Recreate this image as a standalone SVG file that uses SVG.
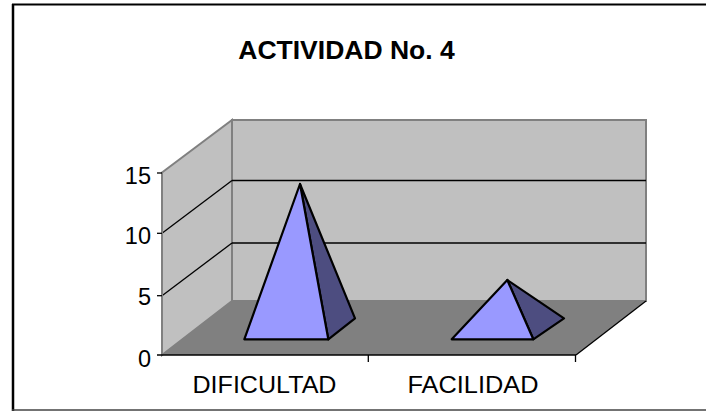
<svg xmlns="http://www.w3.org/2000/svg" width="706" height="411" viewBox="0 0 706 411">
<style>
text{font-family:"Liberation Sans",Arial,sans-serif;fill:#000}
.lbl{font-size:23.5px}
.wall{fill:#C0C0C0;stroke:#808080;stroke-width:2}
.grid{stroke:#000;stroke-width:1.3;fill:none}
.lite{fill:#9999FF;stroke:#000;stroke-width:2.2;stroke-linejoin:round}
.dark{fill:#4D4D80;stroke:#000;stroke-width:2.2;stroke-linejoin:round}
.ax{stroke:#000;stroke-width:1.3;fill:none}
</style>
<rect width="706" height="411" fill="#fff"/>
<g id="frame">
<line x1="13" y1="4" x2="13" y2="411" stroke="#000" stroke-width="2.5"/>
<line x1="12" y1="4.5" x2="706" y2="4.5" stroke="#000" stroke-width="2"/>
<line x1="12" y1="410" x2="706" y2="410" stroke="#444" stroke-width="1.5"/>
</g>
<g id="title"><text x="346.5" y="58.5" font-size="26.5" font-weight="bold" text-anchor="middle">ACTIVIDAD No. 4</text></g>
<g id="plot">
<polygon class="wall" points="162,172.5 232,120 232,301 162,355"/>
<polygon class="wall" points="232,120 646,120 646,301 232,301"/>
<polygon points="162,355 232,301 646,301 576,355" fill="#808080"/>
<line x1="646" y1="301" x2="576" y2="355" class="ax"/>
<line x1="162" y1="233.3" x2="232" y2="180.5" class="grid"/>
<line x1="162" y1="295.7" x2="232" y2="243" class="grid"/>
<line x1="232" y1="180.5" x2="646" y2="180.5" class="grid"/>
<line x1="232" y1="243" x2="646" y2="243" class="grid"/>
</g>
<g id="axes">
<line x1="162" y1="172.5" x2="162" y2="355" stroke="#808080" stroke-width="2"/>
<line x1="157" y1="173" x2="162" y2="173" class="ax"/>
<line x1="157" y1="233.3" x2="162" y2="233.3" class="ax"/>
<line x1="157" y1="295.7" x2="162" y2="295.7" class="ax"/>
<line x1="157" y1="355" x2="576" y2="355" class="ax"/>
<line x1="368.3" y1="355" x2="368.3" y2="362" class="ax"/>
<line x1="575.5" y1="355" x2="575.5" y2="362" class="ax"/>
<text class="lbl" x="151" y="183.5" text-anchor="end">15</text>
<text class="lbl" x="151" y="243.5" text-anchor="end">10</text>
<text class="lbl" x="151" y="305" text-anchor="end">5</text>
<text class="lbl" x="151" y="366.5" text-anchor="end">0</text>
<text class="lbl" x="192.5" y="393.3" textLength="144" lengthAdjust="spacingAndGlyphs">DIFICULTAD</text>
<text class="lbl" x="407.5" y="393.3" textLength="131" lengthAdjust="spacingAndGlyphs">FACILIDAD</text>
</g>
<g id="bar-dificultad">
<polygon class="dark" points="300,184 328.3,339.3 355,318.3"/>
<polygon class="lite" points="244.3,339.3 300,184 328.3,339.3"/>
</g>
<g id="bar-facilidad">
<polygon class="dark" points="507.3,280 533.3,339.3 564,318.3"/>
<polygon class="lite" points="451.7,339.3 507.3,280 533.3,339.3"/>
</g>
</svg>
